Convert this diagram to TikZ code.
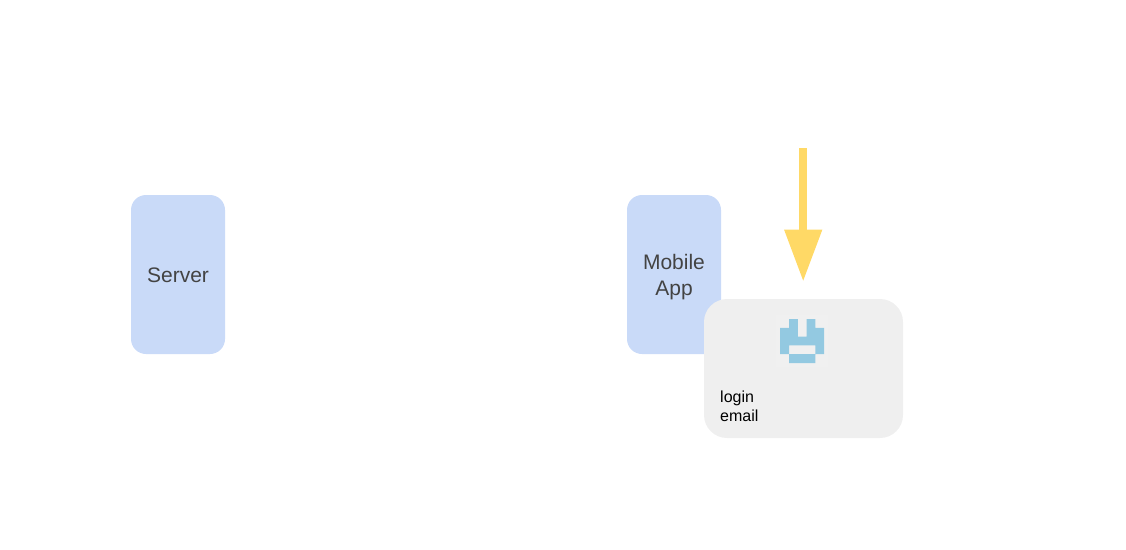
\documentclass[tikz,border=0pt]{standalone}
\usepackage{fontspec}
\setmainfont{Liberation Sans}
\usetikzlibrary{arrows.meta}
\definecolor{boxblue}{HTML}{C9DAF8}
\definecolor{txtgray}{HTML}{434343}
\definecolor{arrowyellow}{HTML}{FFD966}
\definecolor{cardgray}{HTML}{EFEFEF}
\definecolor{icongray}{HTML}{F0F0F0}
\definecolor{iconblue}{HTML}{93C9E1}
\tikzset{
  x=1pt,y=-1pt,
  blockbox/.style={fill=boxblue,rounded corners=15pt,minimum width=94pt,minimum height=159pt,inner sep=0pt,align=center,text=txtgray,font=\fontsize{21}{26}\selectfont},
  cardbox/.style={fill=cardgray,rounded corners=23pt,minimum width=199pt,minimum height=139pt,inner sep=0pt},
  cardtext/.style={inner sep=0pt,align=left,anchor=north west,text=black,font=\fontsize{16}{19.5}\selectfont},
  boxlabel/.style={inner sep=0pt,align=center,text=txtgray,font=\fontsize{21}{26}\selectfont},
  bigarrow/.style={draw=arrowyellow,fill=arrowyellow,line width=8pt,-{Triangle[width=36pt,length=52pt]}},
  iconpix/.style={fill=iconblue}
}
\begin{document}
\begin{tikzpicture}
\useasboundingbox (0,0) rectangle (1126,549);
\node[blockbox] (server) at (178,274.5) {};
\node[blockbox] (mobile) at (674,274.5) {};
\node[boxlabel] (serverlabel) at (178,275.5) {Server};
\node[boxlabel] (mobilelabel) at (674,277.5) {Mobile\\App};
\node[cardbox] (card) at (803.5,368.5) {};
\node[cardtext] (login) at (720,390.5) {login\\email};
\coordinate (arrowstart) at (803.2,148);
\coordinate (arrowend) at (803.2,281.5);
\draw[bigarrow] (arrowstart) -- (arrowend);
\fill[icongray] (776,315) rectangle (828,367);
\fill[iconpix]
  (789,319) rectangle (797.8,336.6)
  (806.6,319) rectangle (815.4,336.6)
  (780,327.8) rectangle (789,354.2)
  (815.4,327.8) rectangle (824,354.2)
  (789,336.6) rectangle (815.4,345.4)
  (789,354.2) rectangle (815.4,363);
\end{tikzpicture}
\end{document}
